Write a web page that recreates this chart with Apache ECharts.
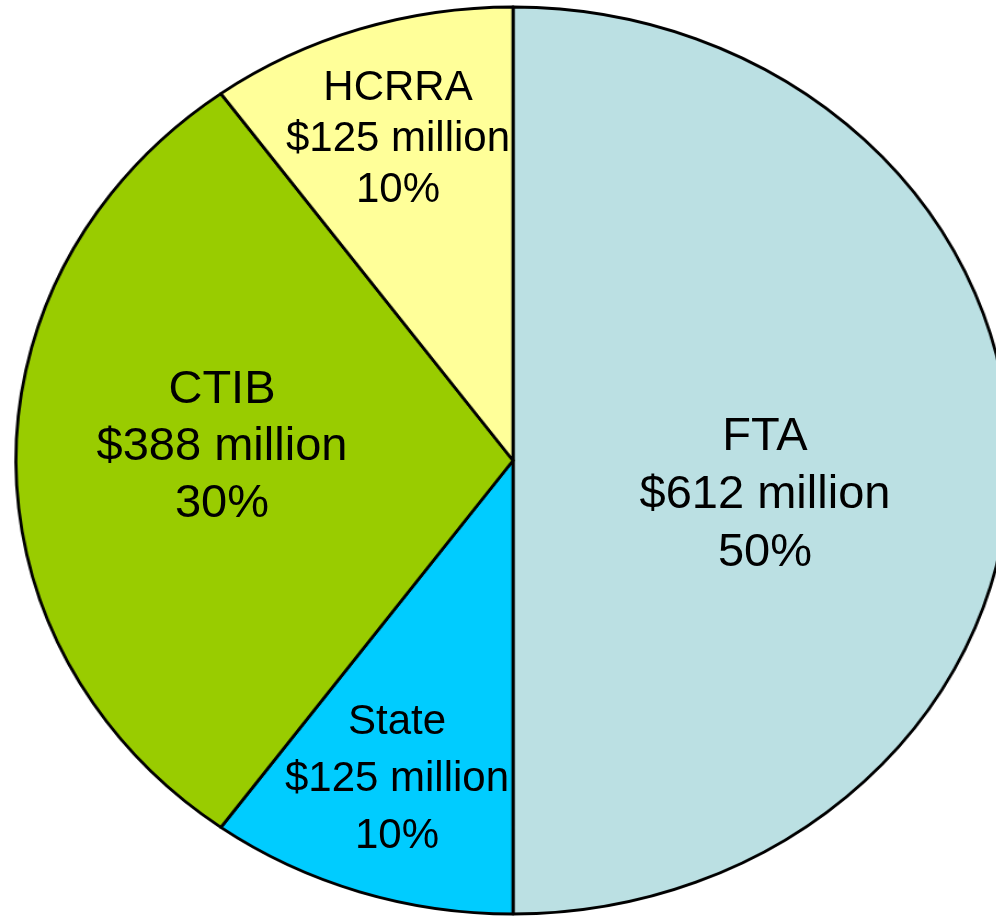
<!DOCTYPE html>
<html>
<head>
<meta charset="utf-8">
<script src="https://cdn.jsdelivr.net/npm/echarts@6/dist/echarts.min.js"></script>
<style>
  html, body { margin: 0; padding: 0; background: #fff; overflow: hidden; }
  #wrap { position: relative; width: 996px; height: 916px; overflow: hidden; }
  /* the pie in the original is stretched a bit wider than tall */
  #pie { position: absolute; left: 0; top: 0; width: 1000px; height: 916px; transform: scaleX(1.096); transform-origin: 0 0; }
  #labels { position: absolute; left: 0; top: 0; width: 996px; height: 916px; }
</style>
</head>
<body>
<div id="wrap">
  <div id="pie"></div>
  <div id="labels"></div>
</div>
<script>
// slices, clockwise from 12 o'clock
var names = ["FTA", "State", "CTIB", "HCRRA"]
var amounts = [612, 125, 388, 125]      // $ million
var percents = [50, 10, 30, 10]
var colors = ["#BBE0E3", "#00CCFF", "#99CC00", "#FFFF99"]

var sx = 1.096
var cx = 513, cy = 460.5, r = 453.5

// label block centres on screen and text sizes
var labelPos = [[765, 495], [397, 779], [222, 447], [398, 139]]
var labelFont = [47, 42, 47, 42]
var labelLine = [58, 57, 57, 51]

function makeData(fill){
    return names.map(function(n, i){
        return {
            name: n,
            value: percents[i],
            itemStyle: { color: fill ? colors[i] : "rgba(0,0,0,0)" },
            label: { fontSize: labelFont[i], lineHeight: labelLine[i] }
        }
    })
}

var pieChart = echarts.init(document.getElementById("pie"))
pieChart.setOption({
    animation: false,
    series: [{
        type: "pie",
        center: [cx / sx, cy],
        radius: [0, r],
        startAngle: 90,
        clockwise: true,
        avoidLabelOverlap: false,
        label: { show: false },
        labelLine: { show: false },
        itemStyle: { borderColor: "#000", borderWidth: 2.8 },
        emphasis: { disabled: true },
        data: makeData(true)
    }]
})

// second, unstretched layer just for the text
var labelChart = echarts.init(document.getElementById("labels"))
labelChart.setOption({
    animation: false,
    series: [{
        type: "pie",
        center: [cx, cy],
        radius: [0, r],
        startAngle: 90,
        clockwise: true,
        avoidLabelOverlap: false,
        silent: true,
        itemStyle: { borderWidth: 0 },
        emphasis: { disabled: true },
        labelLine: { show: false },
        label: {
            show: true,
            position: "inside",
            color: "#000",
            fontFamily: "Liberation Sans, Arial, sans-serif",
            formatter: function(p){
                var i = p.dataIndex
                return names[i] + "\n$" + amounts[i] + " million\n" + percents[i] + "%"
            }
        },
        labelLayout: function(p){
            var pos = labelPos[p.dataIndex]
            return { x: pos[0], y: pos[1], align: "center", verticalAlign: "middle" }
        },
        data: makeData(false)
    }]
})
</script>
</body>
</html>
